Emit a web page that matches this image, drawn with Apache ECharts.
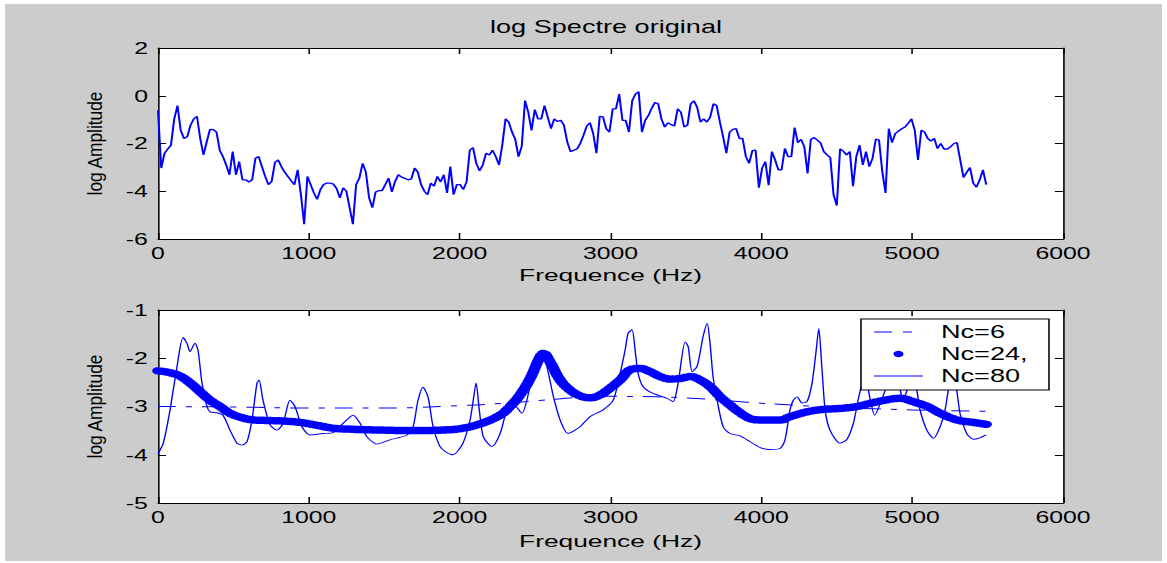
<!DOCTYPE html>
<html>
<head>
<meta charset="utf-8">
<script src="https://cdn.jsdelivr.net/npm/echarts@6/dist/echarts.min.js"></script>
<style>
  html, body { margin: 0; padding: 0; background: #fff; }
  #wrap { position: relative; width: 1167px; height: 563px; background: #fff; overflow: hidden; }
  #panel { position: absolute; left: 5px; top: 4px; width: 1157px; height: 557px; background: #cccccc; }
  /* the figure is laid out on a narrower canvas and widened horizontally */
  #chart { position: absolute; left: 0; top: 0; width: 753px; height: 563px;
           transform: scaleX(1.549801); transform-origin: 0 0; }
</style>
</head>
<body>
<div id="wrap"><div id="panel"></div><div id="chart"></div></div>
<script>
// FFT bin spacing of the spectrum (fs = 11025 Hz, 512-point FFT)
const BIN_HZ = 11025 / 512;

// log amplitude of the original spectrum, one value per bin (bins 0..255)
const logSpectrum = [
  -0.62,-3.03,-2.41,-2.23,-2.07,-0.97,-0.41,-1.45,-1.79,-1.72,-1.24,-0.97,-0.86,-1.79,-2.48,-1.93,
  -1.41,-1.42,-1.52,-2.28,-2.55,-2.90,-3.31,-2.34,-3.31,-2.76,-3.52,-3.52,-3.61,-3.52,-2.62,-2.55,
  -2.97,-3.38,-3.72,-3.59,-2.79,-2.69,-2.97,-3.20,-3.38,-3.56,-3.72,-3.10,-4.14,-5.38,-3.38,-3.72,
  -4.07,-4.34,-3.93,-3.72,-3.66,-3.66,-3.70,-3.89,-4.28,-3.86,-4.00,-4.69,-5.38,-3.72,-3.45,-2.83,
  -3.20,-4.28,-4.69,-4.03,-3.97,-3.97,-3.72,-3.45,-4.03,-3.59,-3.31,-3.41,-3.46,-3.52,-3.48,-3.03,
  -3.20,-3.72,-4.00,-4.14,-3.66,-3.79,-3.38,-3.61,-3.31,-4.07,-2.97,-4.14,-3.72,-3.72,-3.93,-3.61,
  -2.28,-2.17,-2.83,-3.14,-2.90,-2.41,-2.48,-2.28,-2.55,-2.90,-2.07,-0.97,-1.10,-1.52,-1.83,-2.55,
  -2.11,-0.20,-0.69,-1.45,-0.58,-0.97,-0.97,-0.41,-0.90,-1.38,-0.97,-1.08,-1.03,-1.24,-1.93,-2.34,
  -2.28,-2.23,-2.00,-1.66,-1.27,-1.13,-1.59,-2.41,-0.86,-0.88,-1.38,-1.52,-0.55,-0.55, 0.07,-1.03,
  -1.03,-1.52,-0.21, 0.07, 0.17,-1.52,-1.03,-0.83,-0.52,-0.28,-0.34,-0.97,-1.31,-1.13,-1.21,-1.27,
  -0.55,-0.69,-1.31,-1.24,-0.34,-0.21,-0.48,-1.10,-0.97,-1.10,-0.90,-0.34,-0.41,-1.10,-1.72,-2.41,
  -1.52,-1.41,-1.38,-1.79,-1.79,-2.55,-2.83,-2.30,-2.28,-3.85,-3.03,-2.76,-3.75,-2.34,-2.69,-3.10,
  -3.10,-2.21,-2.55,-2.55,-1.33,-1.96,-1.83,-2.14,-3.25,-1.83,-1.75,-1.86,-1.97,-2.34,-2.48,-2.59,
  -4.14,-4.60,-2.23,-2.32,-2.48,-2.34,-3.79,-2.55,-2.07,-2.90,-2.34,-2.97,-2.62,-1.82,-1.86,-3.17,
  -4.07,-1.38,-1.96,-1.59,-1.48,-1.38,-1.31,-1.15,-0.97,-1.45,-2.69,-1.45,-1.52,-1.79,-1.90,-1.79,
  -2.21,-2.00,-2.23,-2.23,-2.14,-2.01,-1.96,-2.69,-3.42,-3.20,-3.01,-3.66,-3.83,-3.52,-3.10,-3.72
];

// cepstral smoothing with 6 coefficients: [frequency Hz, log amplitude]
const nc6 = [
  [0,-3.00],[500,-3.01],[1000,-3.03],[1500,-3.03],[2000,-2.98],[2300,-2.93],[2550,-2.87],
  [2800,-2.81],[3000,-2.79],[3300,-2.80],[3600,-2.84],[3900,-2.91],[4200,-2.97],[4600,-3.03],
  [5000,-3.07],[5490,-3.10]
];

// cepstral smoothing with 24 coefficients
const nc24 = [
  [0,-2.26],[80,-2.30],[146,-2.37],[212,-2.51],[278,-2.69],[345,-2.87],[411,-3.00],[477,-3.14],
  [544,-3.22],[610,-3.27],[723,-3.29],[829,-3.30],[942,-3.33],[1054,-3.39],[1160,-3.45],[1273,-3.47],
  [1492,-3.49],[1717,-3.50],[1870,-3.49],[2003,-3.46],[2135,-3.36],[2268,-3.18],[2334,-3.00],
  [2400,-2.76],[2467,-2.42],[2533,-1.97],[2555,-1.90],[2600,-2.08],[2666,-2.45],[2732,-2.66],
  [2798,-2.78],[2865,-2.82],[2931,-2.76],[2997,-2.62],[3064,-2.45],[3130,-2.24],[3196,-2.21],
  [3263,-2.28],[3329,-2.38],[3395,-2.43],[3462,-2.42],[3528,-2.38],[3594,-2.45],[3660,-2.59],
  [3727,-2.80],[3793,-2.97],[3859,-3.13],[3926,-3.25],[3992,-3.28],[4125,-3.28],[4191,-3.21],
  [4304,-3.11],[4410,-3.06],[4523,-3.04],[4635,-3.00],[4741,-2.92],[4854,-2.85],[4920,-2.83],
  [5007,-2.90],[5100,-3.00],[5186,-3.14],[5299,-3.28],[5405,-3.33],[5490,-3.37]
];

// cepstral smoothing with 80 coefficients
const nc80 = [
  [0,-3.98],[35,-3.76],[80,-3.07],[126,-2.17],[166,-1.57],[192,-1.69],[212,-1.86],[245,-1.69],
  [265,-1.83],[292,-2.52],[325,-3.00],[345,-3.11],[391,-3.13],[431,-3.18],[477,-3.49],[524,-3.76],
  [557,-3.80],[590,-3.73],[623,-3.28],[656,-2.52],[670,-2.45],[696,-2.87],[743,-3.38],[789,-3.49],
  [829,-3.35],[875,-2.87],[908,-3.00],[955,-3.42],[1008,-3.59],[1094,-3.56],[1160,-3.54],[1227,-3.35],
  [1293,-3.18],[1340,-3.35],[1386,-3.63],[1452,-3.78],[1538,-3.69],[1651,-3.59],[1691,-3.42],
  [1724,-2.87],[1757,-2.60],[1790,-2.80],[1824,-3.42],[1870,-3.83],[1923,-3.97],[1956,-4.00],
  [2022,-3.76],[2069,-3.28],[2090,-2.87],[2109,-2.51],[2130,-3.07],[2157,-3.63],[2214,-3.83],
  [2268,-3.56],[2314,-3.07],[2356,-2.95],[2412,-3.14],[2467,-2.59],[2513,-2.11],[2546,-1.90],
  [2578,-2.17],[2622,-2.80],[2666,-3.28],[2718,-3.56],[2798,-3.42],[2865,-3.21],[2951,-3.07],
  [3018,-2.87],[3064,-2.31],[3097,-1.83],[3117,-1.48],[3143,-1.41],[3163,-1.83],[3183,-2.31],
  [3216,-2.59],[3282,-2.73],[3375,-2.83],[3415,-2.90],[3448,-2.52],[3495,-1.66],[3515,-1.76],
  [3541,-2.28],[3574,-2.17],[3614,-1.55],[3641,-1.28],[3660,-1.69],[3680,-2.38],[3707,-2.87],
  [3747,-3.42],[3793,-3.56],[3859,-3.61],[3926,-3.73],[3992,-3.85],[4058,-3.89],[4124,-3.87],
  [4157,-3.69],[4190,-3.07],[4212,-2.87],[4237,-2.80],[4270,-2.93],[4303,-2.90],[4336,-2.52],
  [4364,-1.83],[4381,-1.38],[4401,-2.17],[4423,-3.07],[4455,-3.49],[4522,-3.76],[4566,-3.69],
  [4610,-3.35],[4641,-2.87],[4670,-2.50],[4692,-2.35],[4715,-2.75],[4752,-3.18],[4797,-2.87],
  [4830,-2.60],[4870,-2.40],[4910,-2.55],[4940,-2.85],[4975,-2.60],[5005,-2.45],[5030,-2.65],
  [5052,-3.07],[5097,-3.49],[5141,-3.66],[5185,-3.42],[5218,-3.07],[5240,-2.66],[5265,-2.35],
  [5295,-2.66],[5317,-3.14],[5362,-3.56],[5406,-3.68],[5450,-3.65],[5490,-3.59]
];

const freqTicks = [0, 1000, 2000, 3000, 4000, 5000, 6000];
const topTicks = [-6, -4, -2, 0, 2];
const bottomTicks = [-5, -4, -3, -2, -1];
const legendNames = ['Nc=6', 'Nc=24,', 'Nc=80'];

const BLUE = '#0000ff';
const BLACK = '#000000';
const FONT = 'Liberation Sans';

function span(ticks) {
  return { min: ticks[0], max: ticks[ticks.length - 1], interval: ticks[1] - ticks[0] };
}

const boxLine = { show: true, onZero: false, lineStyle: { color: BLACK, width: 1 } };

function freqAxes(gridIndex, nameGap) {
  const s = span(freqTicks);
  return [
    {
      gridIndex, type: 'value', position: 'bottom', min: s.min, max: s.max, interval: s.interval,
      name: 'Frequence (Hz)', nameLocation: 'middle', nameGap,
      nameTextStyle: { fontFamily: FONT, fontSize: 17, color: BLACK },
      axisLine: boxLine,
      axisTick: { show: true, inside: true, length: 6, lineStyle: { color: BLACK, width: 1 } },
      axisLabel: { show: true, margin: 6, color: BLACK, fontFamily: FONT, fontSize: 16,
                   showMinLabel: true, showMaxLabel: true, formatter: v => String(v) },
      splitLine: { show: false }
    },
    {
      gridIndex, type: 'value', position: 'top', min: s.min, max: s.max, interval: s.interval,
      axisLine: boxLine,
      axisTick: { show: true, inside: true, length: 6, lineStyle: { color: BLACK, width: 1 } },
      axisLabel: { show: false },
      splitLine: { show: false }
    }
  ];
}

function ampAxes(gridIndex, ticks) {
  const s = span(ticks);
  return [
    {
      gridIndex, type: 'value', position: 'left', min: s.min, max: s.max, interval: s.interval,
      axisLine: boxLine,
      axisTick: { show: true, inside: true, length: 5.2, lineStyle: { color: BLACK, width: 1 } },
      axisLabel: { show: true, margin: 6.5, color: BLACK, fontFamily: FONT, fontSize: 16,
                   showMinLabel: true, showMaxLabel: true, formatter: v => String(v) },
      splitLine: { show: false }
    },
    {
      gridIndex, type: 'value', position: 'right', min: s.min, max: s.max, interval: s.interval,
      axisLine: boxLine,
      axisTick: { show: true, inside: true, length: 5.2, lineStyle: { color: BLACK, width: 1 } },
      axisLabel: { show: false },
      splitLine: { show: false }
    }
  ];
}

function verticalLabel(y) {
  return {
    type: 'text', x: 61.3, y, rotation: Math.PI / 2, scaleY: 0.78, silent: true,
    style: { text: 'log Amplitude', fontFamily: FONT, fontSize: 17.3, fill: BLACK,
             align: 'center', verticalAlign: 'middle' }
  };
}

const gridBase = { show: true, backgroundColor: '#ffffff', borderWidth: 0, containLabel: false, outerBoundsMode: 'none' };

const option = {
  animation: false,
  backgroundColor: 'transparent',
  graphic: [
    {
      type: 'text', x: 391, y: 27, silent: true,
      style: { text: 'log Spectre original', fontFamily: FONT, fontSize: 17.5, fill: BLACK,
               align: 'center', verticalAlign: 'middle' }
    },
    verticalLabel(143.5),
    verticalLabel(406.5)
  ],
  grid: [
    Object.assign({ left: 101.95, right: 67.11, top: 48, height: 191 }, gridBase),
    Object.assign({ left: 101.95, right: 67.11, top: 310, height: 193 }, gridBase)
  ],
  xAxis: [].concat(freqAxes(0, 27.5), freqAxes(1, 29.5)),
  yAxis: [].concat(ampAxes(0, topTicks), ampAxes(1, bottomTicks)),
  legend: {
    show: true, selectedMode: false, orient: 'vertical',
    left: 555.55, top: 319,
    padding: [2, 13.75, 3, 8.39],
    itemWidth: 31.62, itemHeight: 6.5, itemGap: 0,
    backgroundColor: '#ffffff', borderColor: BLACK, borderWidth: 1, borderRadius: 0,
    itemStyle: { borderWidth: 0 },
    textStyle: { fontFamily: FONT, fontSize: 17.5, color: BLACK, lineHeight: 22, padding: [0, 0, 0, 6.61] },
    data: [
      { name: legendNames[0], icon: 'path://M0,0h11.6v1h-11.6zM18.7,0h5.8v1h-5.8zM31.5,0h0.12v1h-0.12z' },
      { name: legendNames[1], icon: 'circle' },
      { name: legendNames[2], icon: 'path://M0,0h31.62v1h-31.62z' }
    ]
  },
  series: [
    {
      type: 'line', xAxisIndex: 0, yAxisIndex: 0, silent: true,
      data: logSpectrum.map((v, k) => [k * BIN_HZ, v]),
      symbol: 'none', showSymbol: false,
      lineStyle: { color: BLUE, width: 1.3 }, itemStyle: { color: BLUE }
    },
    {
      name: legendNames[0], type: 'line', xAxisIndex: 2, yAxisIndex: 2, silent: true,
      data: nc6, symbol: 'none', showSymbol: false, smooth: 0.5,
      lineStyle: { color: BLUE, width: 1, type: [11.6, 6.5, 3.9, 6.5] }, itemStyle: { color: BLUE }
    },
    {
      name: legendNames[1], type: 'line', xAxisIndex: 2, yAxisIndex: 2, silent: true,
      data: nc24, symbol: 'none', showSymbol: false, smooth: 0.4,
      lineStyle: { color: BLUE, width: 7.5, type: [0.5, 2.2], cap: 'round' }, itemStyle: { color: BLUE }
    },
    {
      name: legendNames[2], type: 'line', xAxisIndex: 2, yAxisIndex: 2, silent: true,
      data: nc80, symbol: 'none', showSymbol: false, smooth: 0.25,
      lineStyle: { color: BLUE, width: 0.9 }, itemStyle: { color: BLUE }
    }
  ]
};

const chart = echarts.init(document.getElementById('chart'), null, { renderer: 'svg' });
chart.setOption(option);
</script>
</body>
</html>
